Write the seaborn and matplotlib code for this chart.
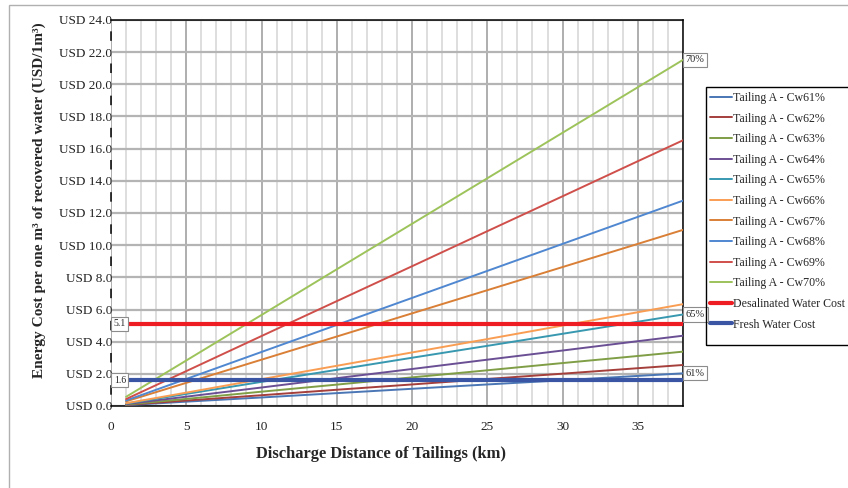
import matplotlib
matplotlib.use("Agg")
import matplotlib.pyplot as plt
from matplotlib.patches import Rectangle
import numpy as np
import pandas as pd
import seaborn as sns

# Discharge distance (km) and energy cost per m3 of recovered water (USD) by solids concentration
distance_km = [1, 5, 10, 15, 20, 25, 30, 35, 38]
cw61 = [0.05, 0.27, 0.53, 0.80, 1.07, 1.34, 1.60, 1.87, 2.03]
cw62 = [0.07, 0.34, 0.67, 1.01, 1.34, 1.68, 2.01, 2.35, 2.55]
cw63 = [0.09, 0.44, 0.89, 1.33, 1.78, 2.22, 2.67, 3.11, 3.38]
cw64 = [0.12, 0.58, 1.15, 1.73, 2.30, 2.88, 3.45, 4.03, 4.37]
cw65 = [0.15, 0.75, 1.50, 2.25, 3.00, 3.74, 4.49, 5.24, 5.69]
cw66 = [0.17, 0.83, 1.67, 2.50, 3.33, 4.16, 5.00, 5.83, 6.33]
cw67 = [0.29, 1.44, 2.88, 4.32, 5.76, 7.20, 8.64, 10.08, 10.95]
cw68 = [0.34, 1.68, 3.36, 5.04, 6.72, 8.40, 10.08, 11.76, 12.77]
cw69 = [0.43, 2.17, 4.35, 6.52, 8.69, 10.87, 13.04, 15.22, 16.52]
cw70 = [0.57, 2.83, 5.66, 8.50, 11.33, 14.16, 16.99, 19.82, 21.52]

series_names = ["Tailing A - Cw61%", "Tailing A - Cw62%", "Tailing A - Cw63%",
                "Tailing A - Cw64%", "Tailing A - Cw65%", "Tailing A - Cw66%",
                "Tailing A - Cw67%", "Tailing A - Cw68%", "Tailing A - Cw69%",
                "Tailing A - Cw70%"]
series_values = [cw61, cw62, cw63, cw64, cw65, cw66, cw67, cw68, cw69, cw70]
series_colors = ["#4a76b5", "#a43f3c", "#7f9e46", "#6b4f94", "#3798b0",
                 "#f99d53", "#d97f36", "#4f87d0", "#cf4f4b", "#9dc35b"]
end_labels = {"Tailing A - Cw61%": "61%", "Tailing A - Cw65%": "65%",
              "Tailing A - Cw70%": "70%"}

# Reference water costs (USD per m3)
ref_x = [1, 38]
desalinated_cost = 5.1
fresh_cost = 1.6

y_ticks = [0, 2, 4, 6, 8, 10, 12, 14, 16, 18, 20, 22, 24]
x_ticks = [0, 5, 10, 15, 20, 25, 30, 35]

sns.set_style("white")
plt.rcParams["font.family"] = ["Liberation Serif", "DejaVu Serif"]
plt.rcParams["lines.scale_dashes"] = False

W, H = 848, 488
fig = plt.figure(figsize=(W / 100, H / 100), dpi=100)
ax = fig.add_axes([111 / W, 1 - 406 / H, (683 - 111) / W, (406 - 20) / H])

long_df = pd.DataFrame({
    "distance": np.tile(distance_km, len(series_names)),
    "cost": np.concatenate(series_values),
    "series": np.repeat(series_names, len(distance_km)),
})
for name, color in zip(series_names, series_colors):
    sub = long_df[long_df["series"] == name]
    sns.lineplot(data=sub, x="distance", y="cost", color=color, lw=1.4,
                 label=name, ax=ax, zorder=3)

ref_df = pd.DataFrame({
    "distance": ref_x * 2,
    "cost": [desalinated_cost] * 2 + [fresh_cost] * 2,
    "kind": ["Desalinated Water Cost"] * 2 + ["Fresh Water Cost"] * 2,
})
sns.lineplot(data=ref_df[ref_df["kind"] == "Desalinated Water Cost"], x="distance",
             y="cost", color="#ee1d24", lw=3.0, label="Desalinated Water Cost",
             ax=ax, zorder=4)
sns.lineplot(data=ref_df[ref_df["kind"] == "Fresh Water Cost"], x="distance",
             y="cost", color="#3a55a3", lw=3.0, label="Fresh Water Cost",
             ax=ax, zorder=4)

# Axes limits, ticks and grid
ax.set_xlim(0, 38)
ax.set_ylim(0, 24)
ax.set_xticks(x_ticks)
ax.set_xticks(range(0, 39), minor=True)
ax.set_yticks(y_ticks)
ax.set_yticklabels([f"USD {v:.1f}" for v in y_ticks])
ax.set_axisbelow(True)
ax.grid(which="minor", axis="x", color="#d4d4d4", lw=1.1)
ax.grid(which="major", axis="x", color="#a8a8a8", lw=1.3)
ax.grid(which="major", axis="y", color="#b4b4b4", lw=1.6)
ax.tick_params(axis="x", which="both", length=0, pad=11, labelsize=9.5,
               colors="#222222")
ax.tick_params(axis="y", length=0, pad=-1, labelsize=9.5, colors="#222222")

for side in ["top", "right", "bottom", "left"]:
    ax.spines[side].set_color("black")
    ax.spines[side].set_linewidth(1.1)
# broken left axis line
unit_pt = (386 / 24) * 0.72
ax.spines["left"].set_linestyle((2 * unit_pt - (unit_pt - 4 * 0.72),
                                 (8 * 0.72, 2 * unit_pt - 8 * 0.72)))

ax.set_xlabel("Discharge Distance of Tailings (km)", fontsize=11.9,
              fontweight="bold", va="top")
ax.xaxis.set_label_coords((381 - 111) / 572, (406 - 446) / 386)
ax.set_ylabel("Energy Cost per one m\u00b3 of recovered water (USD/1m\u00b3)",
              fontsize=11.1, fontweight="bold")
ax.yaxis.set_label_coords((46 - 111) / 572, (406 - 200) / 386)

# Value labels
box = dict(boxstyle="square,pad=0.25", facecolor="white", edgecolor="#8c8c8c",
           lw=0.8)
for name, vals in zip(series_names, series_values):
    if name in end_labels:
        ax.annotate(end_labels[name], xy=(distance_km[-1], vals[-1]),
                    xytext=(2, 0), textcoords="offset points", ha="left",
                    va="center", fontsize=7.5, bbox=box, zorder=6,
                    annotation_clip=False)
for v in (desalinated_cost, fresh_cost):
    ax.annotate(f"{v:.1f}", xy=(0, v), xytext=(2, 0), textcoords="offset points",
                ha="left", va="center", fontsize=7, bbox=box, zorder=6)

# Legend with its own frame
handles, labels = ax.get_legend_handles_labels()
ax.legend(handles, labels, loc="upper left",
          bbox_to_anchor=(710 / W, 1 - 92 / H), bbox_transform=fig.transFigure,
          frameon=False, fontsize=8.6, handlelength=1.8, handletextpad=0.15,
          labelspacing=0.72, borderpad=0, borderaxespad=0)
fig.patches.append(Rectangle((706 / W, 1 - 345 / H), 0.3, (345 - 87) / H,
                             transform=fig.transFigure, fill=False,
                             edgecolor="black", lw=1.0))
# chart-area border
fig.patches.append(Rectangle((9 / W, -0.05), 1.0, 1.05 - 5 / H,
                             transform=fig.transFigure, fill=False,
                             edgecolor="#b0b0b0", lw=1.0))

fig.savefig("out.png", dpi=100)
